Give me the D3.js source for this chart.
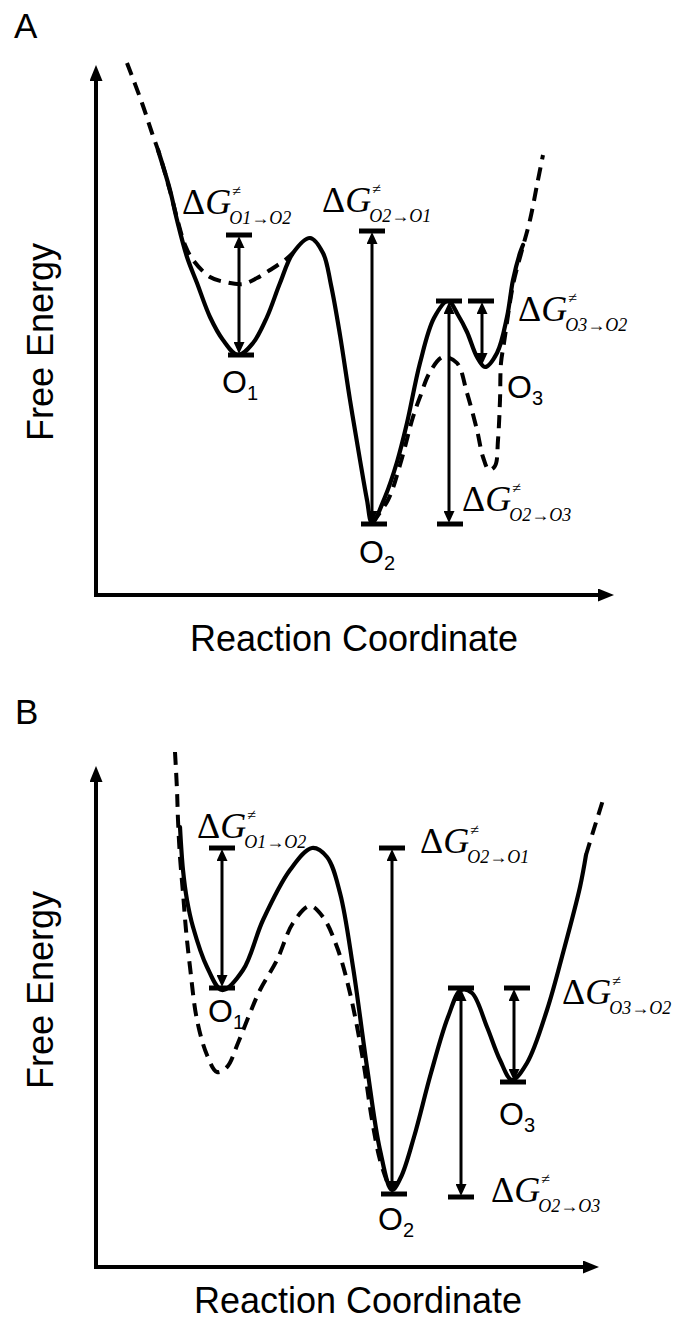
<!DOCTYPE html>
<html>
<head>
<meta charset="utf-8">
<title>Free energy landscapes</title>
<script src="https://cdn.jsdelivr.net/npm/d3@7"></script>
<style>
    body { margin: 0; background: #fff; }
    svg { display: block; }
    .sans { font-family: "Liberation Sans", Arial, sans-serif; fill: #000; }
    .serif { font-family: "Liberation Serif", "Times New Roman", serif; fill: #000; }
</style>
</head>
<body>
<svg id="fig" width="673" height="1323"></svg>
<script>
    // reaction coordinate / free energy pairs (arbitrary units)
    const solidA = [[12.4, 89], [14.8, 81], [16.2, 75], [18.2, 67.6], [20.2, 62.4], [22.8, 55.6], [25.4, 51], [28.4, 48],
        [31.4, 50.4], [34.2, 55.6], [36.8, 62.4], [39.4, 68.4], [42.8, 71.4], [45.4, 68.4], [47, 62], [48.8, 52],
        [50.8, 39], [52.8, 27], [54.2, 19], [55.2, 14.4], [57.8, 19.6], [60.2, 26.6], [62.2, 34.4], [64.8, 46.4],
        [67.6, 55.4], [70.4, 58.8], [72.4, 56], [74.2, 52.6], [76.2, 47.6], [77.8, 45.6], [80.2, 48.4], [82.2, 55.6],
        [83.4, 63], [84.8, 68.4], [85.4, 70]];
    const dashedA1 = [[6.2, 106.4], [9.2, 98.4], [11.2, 92.4], [12.8, 87.8], [14.8, 80.8], [16.4, 74.6], [17.8, 70],
        [19.4, 67], [22.8, 63.6], [25.8, 62.6], [29.4, 62.2], [32.2, 63.4], [34.8, 65], [37.8, 67], [39.4, 68.4]];
    const dashedA2 = [[55.2, 14.4], [58.4, 19], [60.8, 26], [63.4, 35.6], [64.8, 39.6], [66.8, 44.6], [69.4, 47.6],
        [72.2, 46.4], [74.2, 40.4], [76.2, 33], [77.4, 27.6], [78.6, 25], [79.8, 25.8], [80.4, 31], [80.8, 39], [81, 46.4],
        [81.6, 50.4], [83.4, 62], [85.2, 69], [86.8, 75], [88.2, 82], [89.4, 88]];

    const solidB = [[16.8, 88], [17.4, 79.4], [18.2, 73.4], [19.4, 68], [22.2, 60], [25.2, 55.4], [29.4, 59.4], [33.4, 69.4],
        [38.8, 79.4], [43.2, 83.8], [46.2, 82], [48.8, 74.8], [51.4, 60], [54.2, 40], [56.8, 23.4], [59.2, 15.4], [61, 18],
        [63.6, 26], [67, 38.8], [70.4, 50], [73, 55.4], [75.2, 54.8], [78.2, 48], [80.8, 41.4], [83.2, 37.4], [86.2, 40.8],
        [90.2, 51.4], [93.4, 62.8], [96.8, 76], [98, 82.4]];
    const dashedB1 = [[15.8, 103], [16.2, 95.4], [16.4, 89.4], [16.8, 82], [17.4, 74.8], [18, 67.4], [18.8, 60], [20.2, 49.4],
        [22.2, 42.4], [24.2, 39], [26.2, 40], [28.4, 44.8], [30.8, 50.8], [32.8, 55.4], [36.2, 61.4], [39.4, 68.8],
        [42.8, 72.2], [45.4, 70], [48.2, 64], [50.8, 54.8], [53.4, 41.4], [55.2, 29.4], [56.8, 21.4], [58.6, 16]];
    const dashedB2 = [[98, 82.4], [99.4, 87], [101.4, 93.4]];

    // barrier arrows: x, upper level, lower level
    const arrowsA = [[28.6, 72, 48], [55.2, 72.8, 14.2], [70.6, 58.8, 14.2], [77.2, 58.8, 45.8]];
    const barsA = [[28.6, 72], [29, 48], [55.2, 72.8], [55.6, 14.2], [70.6, 58.8], [70.8, 14.2], [77, 58.8]];
    const arrowsB = [[25.2, 83.8, 55.8], [59.2, 83.8, 14.6], [73, 55.8, 14], [83.6, 55.8, 37]];
    const barsB = [[25.2, 83.8], [25.2, 55.8], [59.2, 83.8], [59.6, 14.6], [73, 55.8], [73, 14], [84.2, 55.8], [83.4, 37]];

    // ΔG labels: from, to, x, y
    const dgA = [["O1", "O2", 17.2, 76.2], ["O2", "O1", 45.2, 76.6], ["O3", "O2", 84.4, 54.8], ["O2", "O3", 73.2, 16.8]];
    const dgB = [["O1", "O2", 20.2, 85.8], ["O2", "O1", 64.8, 82.8], ["O3", "O2", 93.2, 52.6], ["O2", "O3", 79, 13]];
    // state labels: index, x, y
    const statesA = [["1", 25.2, 40.4], ["2", 52.6, 6.4], ["3", 82.2, 39.4]];
    const statesB = [["1", 22.4, 49], ["2", 56.4, 7.4], ["3", 80.6, 28.4]];

    const svg = d3.select("#fig");
    const defs = svg.append("defs");
    defs.append("marker")
        .attr("id", "axisHead")
        .attr("viewBox", "0 0 16 13")
        .attr("refX", 4).attr("refY", 6.5)
        .attr("markerWidth", 16).attr("markerHeight", 13)
        .attr("markerUnits", "userSpaceOnUse")
        .attr("orient", "auto-start-reverse")
        .append("path").attr("d", "M0,0L16,6.5L0,13Z");
    defs.append("marker")
        .attr("id", "head")
        .attr("viewBox", "0 0 12 11")
        .attr("refX", 3).attr("refY", 5.5)
        .attr("markerWidth", 12).attr("markerHeight", 11)
        .attr("markerUnits", "userSpaceOnUse")
        .attr("orient", "auto-start-reverse")
        .append("path").attr("d", "M0,0L12,5.5L0,11Z");

    const panels = [
        { letter: "A", lx: 14, ly: 38, x: [0, 103.6, 96, 614], y: [0, 106, 595, 65], titleY: 342, rcX: 354, rcY: 651,
          solid: solidA, dashed: [dashedA1, dashedA2], arrows: arrowsA, bars: barsA, dg: dgA, states: statesA },
        { letter: "B", lx: 15, ly: 724, x: [0, 100.6, 96, 599], y: [0, 100.2, 1267, 766], titleY: 990, rcX: 358, rcY: 1313,
          solid: solidB, dashed: [dashedB1, dashedB2], arrows: arrowsB, bars: barsB, dg: dgB, states: statesB }
    ];

    panels.forEach(drawPanel);

    function drawPanel(p) {
        const x = d3.scaleLinear().domain([p.x[0], p.x[1]]).range([p.x[2], p.x[3]]);
        const y = d3.scaleLinear().domain([p.y[0], p.y[1]]).range([p.y[2], p.y[3]]);
        const g = svg.append("g");

        g.append("text").attr("class", "sans")
            .attr("x", p.lx).attr("y", p.ly)
            .attr("font-size", 35)
            .text(p.letter);

        // axes with arrow heads (line stops short of the tip)
        const x0 = x(p.x[0]), y0 = y(p.y[0]), xt = x(p.x[1]), yt = y(p.y[1]);
        g.append("path")
            .attr("d", `M${x0},${yt + 12}L${x0},${y0}L${xt - 12},${y0}`)
            .attr("fill", "none")
            .attr("stroke", "#000")
            .attr("stroke-width", 4)
            .attr("stroke-linejoin", "miter")
            .attr("marker-start", "url(#axisHead)")
            .attr("marker-end", "url(#axisHead)");

        g.append("text").attr("class", "sans")
            .attr("transform", `translate(53,${p.titleY}) rotate(-90)`)
            .attr("text-anchor", "middle")
            .attr("font-size", 36)
            .text("Free Energy");

        g.append("text").attr("class", "sans")
            .attr("x", p.rcX).attr("y", p.rcY)
            .attr("text-anchor", "middle")
            .attr("font-size", 36)
            .text("Reaction Coordinate");

        const line = d3.line()
            .x(d => x(d[0]))
            .y(d => y(d[1]))
            .curve(d3.curveCatmullRom.alpha(0.5));

        g.selectAll(".dashed")
            .data(p.dashed)
            .join("path")
            .attr("class", "dashed")
            .attr("d", line)
            .attr("fill", "none")
            .attr("stroke", "#000")
            .attr("stroke-width", 4)
            .attr("stroke-dasharray", "13,8");

        g.append("path")
            .datum(p.solid)
            .attr("d", line)
            .attr("fill", "none")
            .attr("stroke", "#000")
            .attr("stroke-width", 4.2)
            .attr("stroke-linecap", "round")
            .attr("stroke-linejoin", "round");

        // barrier arrows
        g.selectAll(".arrow")
            .data(p.arrows)
            .join("line")
            .attr("class", "arrow")
            .attr("x1", d => x(d[0])).attr("x2", d => x(d[0]))
            .attr("y1", d => y(d[1]) + 10)
            .attr("y2", d => y(d[2]) - 10)
            .attr("stroke", "#000")
            .attr("stroke-width", 3)
            .attr("marker-start", "url(#head)")
            .attr("marker-end", "url(#head)");

        g.selectAll(".bar")
            .data(p.bars)
            .join("line")
            .attr("class", "bar")
            .attr("x1", d => x(d[0]) - 13).attr("x2", d => x(d[0]) + 13)
            .attr("y1", d => y(d[1])).attr("y2", d => y(d[1]))
            .attr("stroke", "#000")
            .attr("stroke-width", 5);

        // ΔG labels
        p.dg.forEach(d => {
            const lx = x(d[2]), ly = y(d[3]);
            const t = g.append("text").attr("class", "serif")
                .attr("x", lx).attr("y", ly)
                .attr("font-size", 36);
            t.append("tspan").text("Δ");
            t.append("tspan").attr("font-style", "italic").text("G");
            const w = t.node().getComputedTextLength();
            g.append("text").attr("class", "serif")
                .attr("x", lx + w + 1).attr("y", ly - 18)
                .attr("font-size", 16)
                .text("≠");
            g.append("text").attr("class", "serif")
                .attr("x", lx + w - 2).attr("y", ly + 10)
                .attr("font-size", 18)
                .attr("font-style", "italic")
                .text(d[0] + "→" + d[1]);
        });

        // state labels
        p.states.forEach(d => {
            const t = g.append("text").attr("class", "sans")
                .attr("x", x(d[1])).attr("y", y(d[2]))
                .attr("font-size", 32);
            t.append("tspan").text("O");
            t.append("tspan").attr("font-size", 20).attr("dy", 7).text(d[0]);
        });
    }
</script>
</body>
</html>
